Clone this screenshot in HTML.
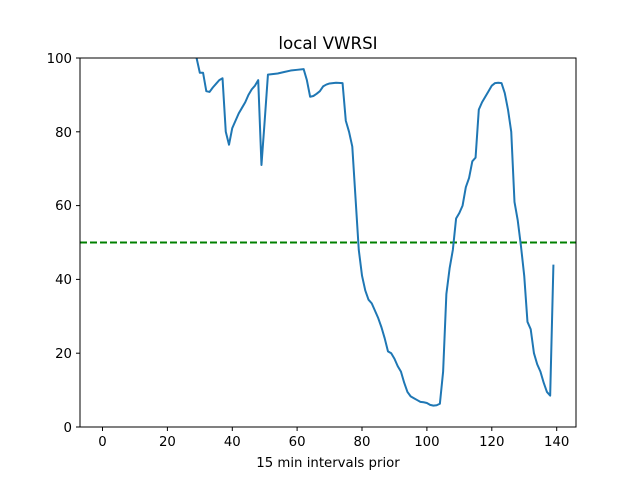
<!DOCTYPE html>
<html><head><style>body{margin:0;background:#fff}svg{display:block}text{font-family:"DejaVu Sans","Liberation Sans",sans-serif;fill:#000}</style></head><body>
<svg width="640" height="480" xmlns="http://www.w3.org/2000/svg">
<defs><clipPath id="c"><rect x="80" y="58" width="496" height="369"/></clipPath></defs>
<text x="328" y="49" font-size="16.7" text-anchor="middle">local VWRSI</text>
<g clip-path="url(#c)">
<line x1="80" y1="242.5" x2="576" y2="242.5" stroke="#008000" stroke-width="2" stroke-dasharray="7,3"/>
<g transform="translate(102.5,427) scale(3.244,-3.69)">
<polyline fill="none" stroke="#1f77b4" stroke-width="2" vector-effect="non-scaling-stroke" stroke-linejoin="round" points="28,104 29,100 30,96 31,96 32,91 33,90.8 34,92 35,93 36,94 37,94.5 38,80 39,76.5 40,81 41,83 42,85 43,86.5 44,88 45,90 46,91.5 47,92.5 48,94 49,71 50,83 51,95.5 52,95.6 54,95.8 56,96.2 58,96.6 60,96.8 62,97 63,94 64,89.5 65,89.7 66,90.3 67,91 68,92.3 69,92.8 70,93.1 72,93.3 74,93.2 75,83 76,80 77,76 78,62 79,48 80,41 81,37 82,34.5 83,33.5 84,31.5 85,29.5 86,27 87,24 88,20.5 89,20 90,18.5 91,16.5 92,15 93,12 94,9.5 95,8.3 96,7.8 97,7.3 98,6.8 99,6.7 100,6.5 101,6 102,5.8 103,5.9 104,6.3 105,15 106,36 107,43 108,48 109,56.5 110,58 111,60 112,65 113,67.5 114,72 115,73 116,86 117,88 118,89.5 119,91 120,92.5 121,93.2 122,93.3 123,93.2 124,90.5 125,86 126,80 127,61 128,56 129,49 130,41 131,28.5 132,26.5 133,20 134,17 135,15 136,12 137,9.5 138,8.5 139,44"/>
</g></g>
<rect x="80" y="58" width="496" height="369" fill="none" stroke="#000" stroke-width="1"/>
<g stroke="#000" stroke-width="1">
<line x1="102.5" y1="427" x2="102.5" y2="431"/><line x1="167.4" y1="427" x2="167.4" y2="431"/><line x1="232.3" y1="427" x2="232.3" y2="431"/><line x1="297.1" y1="427" x2="297.1" y2="431"/><line x1="362" y1="427" x2="362" y2="431"/><line x1="426.9" y1="427" x2="426.9" y2="431"/><line x1="491.8" y1="427" x2="491.8" y2="431"/><line x1="556.7" y1="427" x2="556.7" y2="431"/>
<line x1="76" y1="427" x2="80" y2="427"/><line x1="76" y1="353.2" x2="80" y2="353.2"/><line x1="76" y1="279.4" x2="80" y2="279.4"/><line x1="76" y1="205.6" x2="80" y2="205.6"/><line x1="76" y1="131.8" x2="80" y2="131.8"/><line x1="76" y1="58" x2="80" y2="58"/>
</g>
<g font-size="13.3" text-anchor="middle">
<text x="102.5" y="446">0</text><text x="167.4" y="446">20</text><text x="232.3" y="446">40</text><text x="297.1" y="446">60</text><text x="362" y="446">80</text><text x="426.9" y="446">100</text><text x="491.8" y="446">120</text><text x="556.7" y="446">140</text>
<text x="328" y="467">15 min intervals prior</text>
</g>
<g font-size="13.3" text-anchor="end">
<text x="72" y="432">0</text><text x="72" y="358">20</text><text x="72" y="284">40</text><text x="72" y="210">60</text><text x="72" y="137">80</text><text x="72" y="63">100</text>
</g>
</svg>
</body></html>
